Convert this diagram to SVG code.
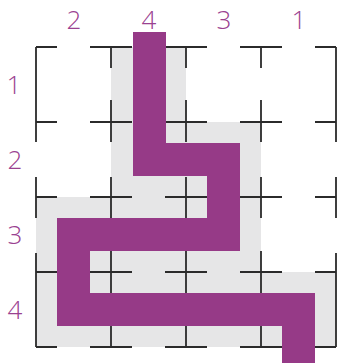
<svg xmlns="http://www.w3.org/2000/svg" width="337" height="363" viewBox="0 0 337 363">
<style>
.lbl{font-family:"Open Sans","Noto Sans","Liberation Sans",sans-serif;font-size:26px;font-weight:300;fill:#9a4190;text-anchor:middle}
.g{stroke:#2b2b2b;stroke-width:1.8;fill:none}
.path{fill:none;stroke:#963a87;stroke-width:33;stroke-linejoin:miter;stroke-linecap:butt}
</style>
<rect width="337" height="363" fill="#ffffff"/>
<g id="shade">
<polygon points="111,47 186,47 186,122 261,122 261,272 336,272 336,347 36,347 36,197 111,197" fill="#e6e6e7"/>
</g>
<g id="grid" class="g">
<path d="M36,47H57M90,47H132M165,47H207M240,47H282M315,47H336
M36,122H57M90,122H132M165,122H207M240,122H282M315,122H336
M36,197H57M90,197H132M165,197H207M240,197H282M315,197H336
M36,272H57M90,272H132M165,272H207M240,272H282M315,272H336
M36,347H57M90,347H132M165,347H207M240,347H282M315,347H336"/>
<path d="M36,47V142M36,177V218M36,253V347
M336,47V142M336,177V218M336,253V347
M111,47V68M111,100V142M111,177V218M111,251V347
M186,47V68M186,100V142M186,177V218M186,251V347
M261,47V68M261,100V142M261,177V218M261,251V347"/>
</g>
<g id="connectors">
<polyline class="path" points="149.5,32 149.5,159.5 223.5,159.5 223.5,234.5 73.5,234.5 73.5,309.5 298.5,309.5 298.5,363"/>
</g>
<g id="column-labels">
<text class="lbl" x="74" y="29">2</text>
<text class="lbl" x="149" y="29">4</text>
<text class="lbl" x="224" y="29">3</text>
<text class="lbl" x="299" y="29">1</text>
</g>
<g id="row-labels">
<text class="lbl" x="14" y="93.5">1</text>
<text class="lbl" x="15" y="168.5">2</text>
<text class="lbl" x="15" y="243.5">3</text>
<text class="lbl" x="15" y="318.5">4</text>
</g>
</svg>
